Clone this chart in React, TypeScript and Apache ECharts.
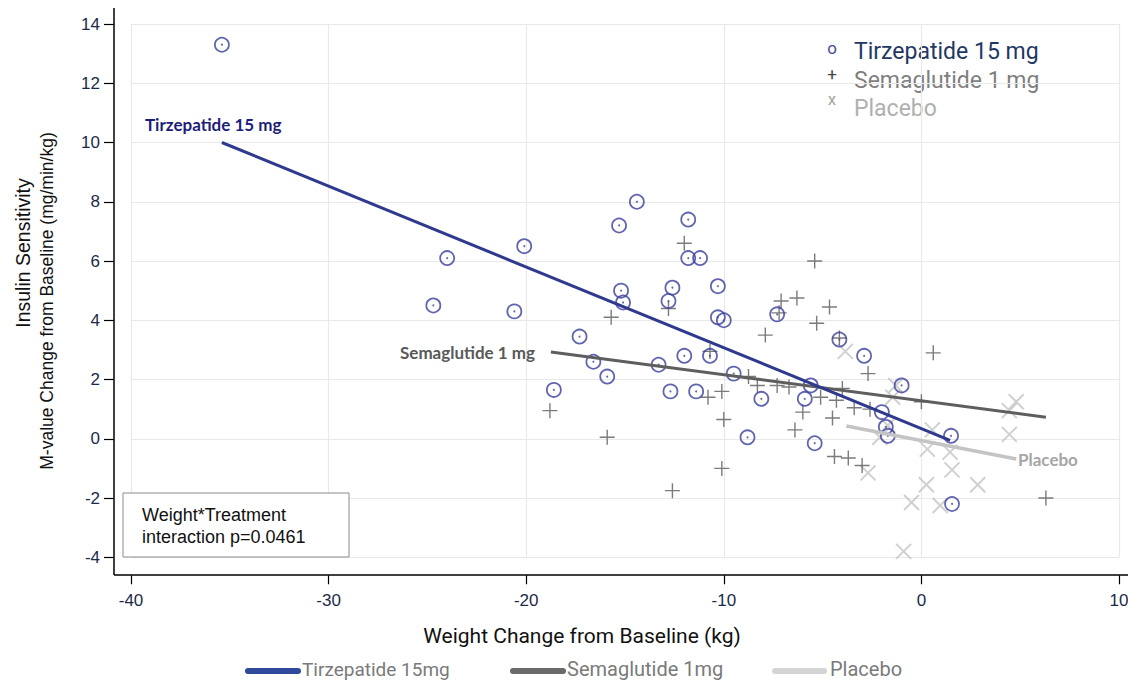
import React, { useEffect, useRef } from "react";
import * as echarts from "echarts";

// ---- data ----
const xTicks = [-40, -30, -20, -10, 0, 10];
const yTicks = [-4, -2, 0, 2, 4, 6, 8, 10, 12, 14];

const tirzepatidePoints: [number, number][] = [
  [-35.4, 13.3], [-24.0, 6.1], [-24.7, 4.5], [-20.1, 6.5], [-20.6, 4.3],
  [-14.4, 8.0], [-15.3, 7.2], [-11.8, 7.4], [-11.8, 6.1], [-11.2, 6.1],
  [-15.2, 5.0], [-15.1, 4.6], [-12.6, 5.1], [-12.8, 4.65], [-10.3, 5.15],
  [-10.3, 4.1], [-10.0, 4.0], [-17.3, 3.45], [-16.6, 2.6], [-15.9, 2.1],
  [-18.6, 1.65], [-13.3, 2.5], [-12.0, 2.8], [-10.7, 2.8], [-12.7, 1.6],
  [-11.4, 1.6], [-9.5, 2.2], [-8.1, 1.35], [-8.8, 0.05], [-7.3, 4.2],
  [-5.6, 1.8], [-5.9, 1.35], [-5.4, -0.15], [-4.15, 3.35], [-2.9, 2.8],
  [-1.0, 1.8], [-2.0, 0.9], [-1.8, 0.4], [-1.7, 0.1], [1.5, 0.1], [1.55, -2.2],
];

const semaglutidePoints: [number, number][] = [
  [-12.0, 6.6], [-15.7, 4.1], [-12.8, 4.4], [-18.8, 0.95], [-15.9, 0.05],
  [-12.6, -1.75], [-5.4, 6.0], [-7.1, 4.65], [-6.3, 4.75], [-4.65, 4.45],
  [-7.2, 4.25], [-5.3, 3.9], [-7.9, 3.5], [-10.7, 2.95], [-8.75, 2.1],
  [-8.3, 1.8], [-7.3, 1.8], [-6.7, 1.75], [-10.1, 1.6], [-10.8, 1.4],
  [-10.0, 0.65], [-10.1, -1.0], [-4.0, 1.7], [-2.7, 2.2], [0.6, 2.9],
  [-4.3, 1.3], [-3.4, 1.05], [-2.6, 1.0], [0.0, 1.25], [-5.1, 1.4],
  [-4.5, 0.7], [-6.0, 0.9], [-6.4, 0.3], [-4.4, -0.6], [-3.7, -0.65],
  [-3.0, -0.9], [-4.15, 3.4], [6.3, -2.0],
];

const placeboPoints: [number, number][] = [
  [-3.85, 2.95], [-1.3, 1.8], [-1.45, 1.4], [-1.7, 0.45], [-2.1, 0.05],
  [0.55, 0.3], [0.3, -0.35], [1.45, -0.45], [1.55, -1.05], [-2.7, -1.15],
  [0.25, -1.55], [2.85, -1.55], [-0.5, -2.15], [0.95, -2.25], [-0.9, -3.8],
  [4.8, 1.25], [4.45, 0.95], [4.45, 0.15],
];

const tirzepatideFit: [number, number][] = [[-35.4, 10.0], [1.45, -0.05]];
const semaglutideFit: [number, number][] = [[-18.75, 2.93], [6.3, 0.73]];
const placeboFit: [number, number][] = [[-3.8, 0.43], [4.8, -0.68]];

const scatterNames = ["Tirzepatide 15 mg", "Semaglutide 1 mg", "Placebo"];
const fitNames = ["Tirzepatide 15mg", "Semaglutide 1mg", "Placebo"];
const fitLabels = ["Tirzepatide 15 mg", "Semaglutide 1 mg", "Placebo"];
const yTitleLines = ["Insulin Sensitivity", "M-value Change from Baseline (mg/min/kg)"];
const xTitle = "Weight Change from Baseline (kg)";
const noteLines = ["Weight*Treatment", "interaction p=0.0461"];

const C_TIRZ = "#2f3a8f";
const C_SEMA = "#5e5e5e";
const C_PLAC = "#c4c4c4";

const PLUS = "path://M0,7L14,7M7,0L7,14";
const CROSS = "path://M0,0L14,14M14,0L0,14";

export default function App() {
  const ref = useRef<HTMLDivElement>(null);

  useEffect(() => {
    if (!ref.current) return;
    const chart = echarts.init(ref.current, undefined, { renderer: "svg" });
    const tickFont = { fontFamily: "Liberation Sans, Arial, sans-serif", fontSize: 17, color: "#1c2a4a" };

    chart.setOption({
      animation: false,
      backgroundColor: "#ffffff",
      grid: {
        left: 131, right: 9, top: 24, bottom: 122.7,
        containLabel: false, outerBoundsMode: "none",
      },
      xAxis: {
        type: "value",
        min: xTicks[0],
        max: xTicks[xTicks.length - 1],
        interval: 10,
        offset: 18,
        axisLine: { show: false, onZero: false },
        axisTick: { show: true, length: 9, lineStyle: { color: "#000", width: 1.2 } },
        axisLabel: { ...tickFont, margin: 17 },
        splitLine: { show: true, lineStyle: { color: "#e9e9e9", width: 1.2 } },
      },
      yAxis: {
        type: "value",
        min: yTicks[0],
        max: yTicks[yTicks.length - 1],
        interval: 2,
        offset: 17,
        axisLine: { show: false, onZero: false },
        axisTick: { show: true, length: 10, lineStyle: { color: "#000", width: 1.2 } },
        axisLabel: { ...tickFont, margin: 14 },
        splitLine: { show: true, lineStyle: { color: "#e9e9e9", width: 1.2 } },
      },
      series: [
        {
          name: scatterNames[2],
          type: "scatter",
          data: placeboPoints,
          symbol: CROSS,
          symbolSize: 15,
          itemStyle: { color: "transparent", borderColor: C_PLAC, borderWidth: 2 },
          z: 2,
        },
        {
          name: scatterNames[1],
          type: "scatter",
          data: semaglutidePoints,
          symbol: PLUS,
          symbolSize: 15,
          itemStyle: { color: "transparent", borderColor: "#5a5a5a", borderWidth: 1.4 },
          z: 3,
        },
        {
          name: scatterNames[0],
          type: "scatter",
          data: tirzepatidePoints,
          symbol: "circle",
          symbolSize: 14,
          itemStyle: { color: "transparent", borderColor: "#3a3f9c", borderWidth: 1.8 },
          z: 4,
        },
        {
          name: scatterNames[0] + " centre",
          type: "scatter",
          data: tirzepatidePoints,
          symbol: "circle",
          symbolSize: 2,
          itemStyle: { color: "#3d4199" },
          z: 4,
          silent: true,
        },
        {
          name: fitNames[0],
          type: "line",
          data: tirzepatideFit,
          symbol: "none",
          lineStyle: { color: C_TIRZ, width: 3 },
          z: 6,
        },
        {
          name: fitNames[1],
          type: "line",
          data: semaglutideFit,
          symbol: "none",
          lineStyle: { color: C_SEMA, width: 3 },
          z: 5,
        },
        {
          name: fitNames[2],
          type: "line",
          data: placeboFit,
          symbol: "none",
          lineStyle: { color: C_PLAC, width: 3.5 },
          z: 5,
        },
      ],
      graphic: [
        // axis lines
        { type: "line", shape: { x1: 114, y1: 8, x2: 114, y2: 575 }, style: { stroke: "#000", lineWidth: 1.5 }, z: 10 },
        { type: "line", shape: { x1: 114, y1: 575, x2: 1128, y2: 575 }, style: { stroke: "#000", lineWidth: 1.5 }, z: 10 },
        // y title
        {
          type: "text", x: 23, y: 253, rotation: Math.PI / 2,
          style: { text: yTitleLines[0], font: '19.5px "Liberation Sans", Arial, sans-serif', fill: "#111", align: "center", verticalAlign: "middle" },
        },
        {
          type: "text", x: 47, y: 301, rotation: Math.PI / 2,
          style: { text: yTitleLines[1], font: '17.5px "Liberation Sans", Arial, sans-serif', fill: "#111", align: "center", verticalAlign: "middle" },
        },
        // x title
        {
          type: "text", x: 582, y: 636,
          style: { text: xTitle, font: '21px Roboto, sans-serif', fill: "#111", align: "center", verticalAlign: "middle" },
        },
        // top-right legend
        { type: "text", x: 832, y: 48, style: { text: "o", font: '17px Roboto, sans-serif', fill: "#4a4a9a", align: "center", verticalAlign: "middle" } },
        { type: "text", x: 832, y: 74, style: { text: "+", font: '17px Roboto, sans-serif', fill: "#444", align: "center", verticalAlign: "middle" } },
        { type: "text", x: 832, y: 99, style: { text: "x", font: '17px Roboto, sans-serif', fill: "#a6a6a6", align: "center", verticalAlign: "middle" } },
        { type: "text", x: 854, y: 51, style: { text: scatterNames[0], font: '23px Roboto, sans-serif', fill: "#1f3864", align: "left", verticalAlign: "middle" } },
        { type: "text", x: 854, y: 80, style: { text: scatterNames[1], font: '23px Roboto, sans-serif', fill: "#7f7f7f", align: "left", verticalAlign: "middle" } },
        { type: "text", x: 854, y: 108, style: { text: scatterNames[2], font: '23px Roboto, sans-serif', fill: "#b0b0b0", align: "left", verticalAlign: "middle" } },
        // annotation box
        { type: "rect", shape: { x: 123, y: 493, width: 226, height: 64 }, style: { fill: "#fff", stroke: "#8a8a8a", lineWidth: 1 }, z: 8 },
        { type: "text", x: 142, y: 515, z: 9, style: { text: noteLines[0], font: '18px "Liberation Sans", Arial, sans-serif', fill: "#111", align: "left", verticalAlign: "middle" } },
        { type: "text", x: 142, y: 537, z: 9, style: { text: noteLines[1], font: '18px "Liberation Sans", Arial, sans-serif', fill: "#111", align: "left", verticalAlign: "middle" } },
        // fit labels
        { type: "text", x: 145, y: 124, z: 9, style: { text: fitLabels[0], font: 'bold 17px Lato, sans-serif', fill: "#1e1e7a", align: "left", verticalAlign: "middle" } },
        { type: "text", x: 400, y: 352, z: 9, style: { text: fitLabels[1], font: 'bold 17px Lato, sans-serif', fill: "#595959", align: "left", verticalAlign: "middle" } },
        { type: "text", x: 1018, y: 459, z: 9, style: { text: fitLabels[2], font: 'bold 17px Lato, sans-serif', fill: "#a6a6a6", align: "left", verticalAlign: "middle" } },
        // bottom legend
        { type: "rect", shape: { x: 245, y: 668, width: 56, height: 6, r: 3 }, style: { fill: "#2f4a9a" } },
        { type: "text", x: 302, y: 669, style: { text: fitNames[0], font: '19px Roboto, sans-serif', fill: "#7a7a7a", align: "left", verticalAlign: "middle" } },
        { type: "rect", shape: { x: 510, y: 668, width: 56, height: 6, r: 3 }, style: { fill: "#6a6a6a" } },
        { type: "text", x: 567, y: 669, style: { text: fitNames[1], font: '20px Roboto, sans-serif', fill: "#7a7a7a", align: "left", verticalAlign: "middle" } },
        { type: "rect", shape: { x: 772, y: 668, width: 55, height: 6, r: 3 }, style: { fill: "#d4d4d4" } },
        { type: "text", x: 830, y: 669, style: { text: fitNames[2], font: '20px Roboto, sans-serif', fill: "#7a7a7a", align: "left", verticalAlign: "middle" } },
      ],
    });

    return () => chart.dispose();
  }, []);

  return (
    <div
      ref={ref}
      style={{ position: "absolute", left: 0, top: 0, width: 1128, height: 680, background: "#fff" }}
    />
  );
}
